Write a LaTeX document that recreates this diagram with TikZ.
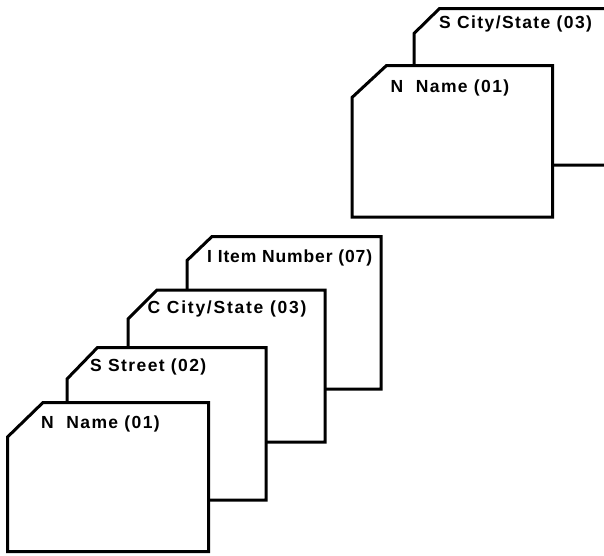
\documentclass[tikz,border=0pt]{standalone}
\usepackage{fontspec}
\newfontfamily\cardfont[LetterSpace=8,UprightFont={* Bold}]{Liberation Sans}
\newfontfamily\cardfontwide[LetterSpace=10,UprightFont={* Bold}]{Liberation Sans}
\newfontfamily\cardfonttight[LetterSpace=5,UprightFont={* Bold}]{Liberation Sans}
\begin{document}
\begin{tikzpicture}[x=1pt,y=-1pt,
  card/.style={draw=black, line width=3pt, fill=white, line join=miter},
  cardlabel/.style={anchor=base west, inner sep=0pt, font={\fontsize{17.5}{20}\cardfont}},
  cardlabelwide/.style={cardlabel, font={\fontsize{17.5}{20}\cardfontwide}},
  cardlabeltight/.style={cardlabel, font={\fontsize{17.5}{20}\cardfonttight}}]
\useasboundingbox (0,0) rectangle (604,555);
\clip (0,0) rectangle (604,555);

% upper record: two cards, the rear one running off to the right
\draw[card] (414,33.5) -- (439.5,8.5) -- (640,8.5) -- (640,165) -- (414,165) -- cycle;
\node[cardlabel] (upperS) at (439,28.5) {S City/State (03)};
\draw[card] (352,97.5) -- (386.5,65.5) -- (552.5,65.5) -- (552.5,217) -- (352,217) -- cycle;
\node[cardlabel] (upperN) at (390.5,92) {N~~Name (01)};

% lower record: four stacked cards, rear to front
\draw[card] (187,260.5) -- (212,236.5) -- (381,236.5) -- (381,389) -- (187,389) -- cycle;
\node[cardlabeltight] (lowerI) at (207,262) {I Item Number (07)};
\draw[card] (128,319) -- (157,290) -- (325,290) -- (325,442) -- (128,442) -- cycle;
\node[cardlabelwide] (lowerC) at (147.5,313.5) {C City/State (03)};
\draw[card] (67,379) -- (97.5,347.5) -- (266,347.5) -- (266,500) -- (67,500) -- cycle;
\node[cardlabel] (lowerS) at (90,371.5) {S Street (02)};
\draw[card] (7.5,437) -- (43,402.5) -- (208.5,402.5) -- (208.5,551.5) -- (7.5,551.5) -- cycle;
\node[cardlabel] (lowerN) at (41,428.5) {N~~Name (01)};
\end{tikzpicture}
\end{document}
